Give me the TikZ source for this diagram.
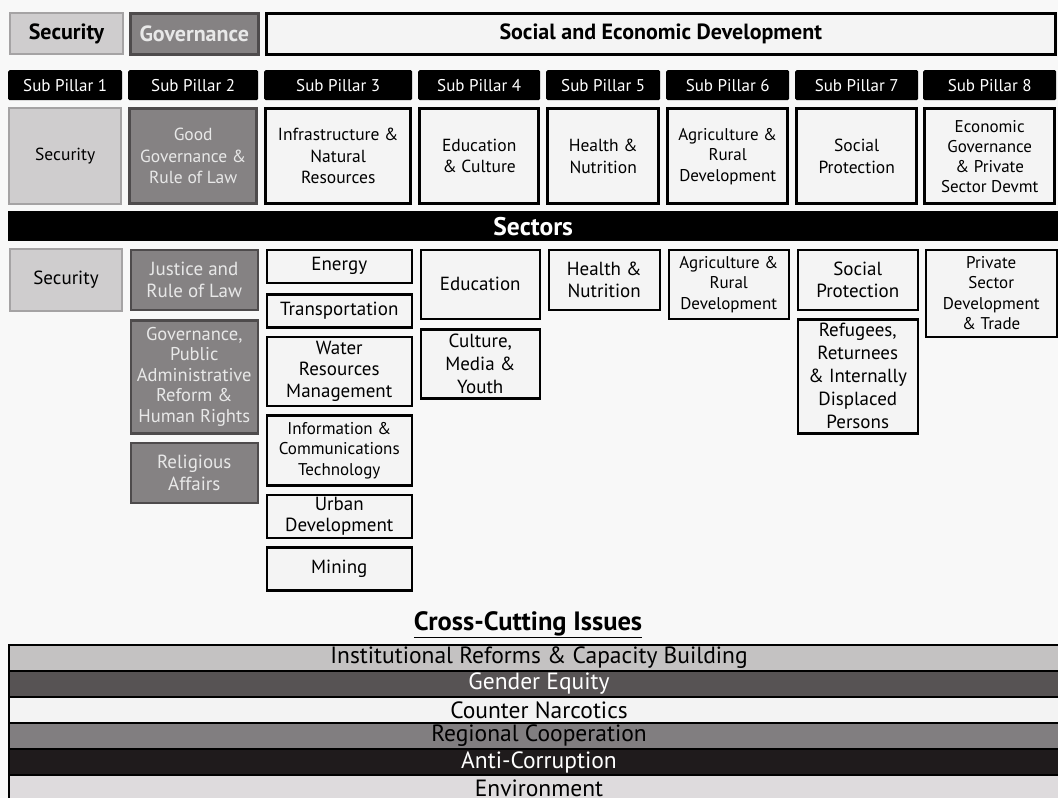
\documentclass[tikz,border=0pt]{standalone}
\usepackage{fontspec}
\setmainfont{PT Sans}
\usetikzlibrary{positioning}
\definecolor{pagebg}{HTML}{F8F8F8}
\definecolor{lightfill}{HTML}{CFCDCE}
\definecolor{lightedge}{HTML}{A5A3A4}
\definecolor{darkfill}{HTML}{858283}
\definecolor{darkedge}{HTML}{4E4B4C}
\definecolor{paleword}{HTML}{E8E8E8}
\definecolor{whitefill}{HTML}{F4F4F4}
\definecolor{issueA}{HTML}{C4C2C2}
\definecolor{issueB}{HTML}{575354}
\definecolor{issueC}{HTML}{F3F3F3}
\definecolor{issueD}{HTML}{817E80}
\definecolor{issueE}{HTML}{1F1B1C}
\definecolor{issueF}{HTML}{DEDBDD}

\begin{document}
\begin{tikzpicture}[
        x=1pt, y=-1pt,
        node distance = 7pt,
        every node/.style = {inner sep=1pt, align=center},
        pillarfont/.style = {font=\fontsize{17.5}{21.5}\selectfont},
        sectorfont/.style = {font=\fontsize{19}{21.5}\selectfont},
        smallfont/.style = {font=\fontsize{17}{20.5}\selectfont},
        topbox/.style   = {anchor=north west, minimum height=41pt, line width=2pt, font=\fontsize{22}{24}\selectfont\bfseries},
        subhead/.style  = {anchor=north west, fill=black, rounded corners=1.5pt, minimum height=30pt, text=white, font=\fontsize{17}{20}\selectfont},
        graybox/.style  = {draw=lightedge, fill=lightfill, line width=2pt},
        darkbox/.style  = {draw=darkedge, fill=darkfill, line width=2.5pt, text=paleword},
        plainbox/.style = {draw=black, fill=whitefill, line width=2.5pt},
        sectorbar/.style = {anchor=north west, fill=black, minimum width=1050pt, minimum height=30pt, text=white, font=\fontsize{25.5}{27}\selectfont\bfseries},
        issuebar/.style = {draw=black, line width=1.5pt, outer sep=0pt, minimum width=1060pt, minimum height=26pt, font=\fontsize{23.5}{25}\selectfont},
    ]
        \useasboundingbox (0,0) rectangle (1058,798);
        \clip (0,0) rectangle (1058,798);
        \fill[pagebg] (0,0) rectangle (1058,798);

        % pillars
        \node[topbox, graybox, minimum width=113pt] (topsec) at (9,12) {Security};
        \node[topbox, darkbox, text=paleword, minimum width=128pt] (topgov) at (129,12) {Governance};
        \node[topbox, plainbox, minimum width=789pt] (topsoc) at (265,12) {Social and Economic Development};

        % sub pillars
        \node[subhead, minimum width=114pt] (sub1) at (8,70) {Sub Pillar 1};
        \node[subhead, minimum width=130pt] (sub2) at (128,70) {Sub Pillar 2};
        \node[subhead, minimum width=148pt] (sub3) at (264,70) {Sub Pillar 3};
        \node[subhead, minimum width=122pt] (sub4) at (418,70) {Sub Pillar 4};
        \node[subhead, minimum width=114pt] (sub5) at (546,70) {Sub Pillar 5};
        \node[subhead, minimum width=123pt] (sub6) at (666,70) {Sub Pillar 6};
        \node[subhead, minimum width=123pt] (sub7) at (795,70) {Sub Pillar 7};
        \node[subhead, minimum width=133pt] (sub8) at (923,70) {Sub Pillar 8};

        \node[graybox, pillarfont, minimum width=112pt, minimum height=96pt, below=7pt of sub1] (pil1) {Security};
        \node[darkbox, pillarfont, minimum width=127pt, minimum height=95pt, below=7pt of sub2] (pil2) {Good\\Governance \&\\Rule of Law};
        \node[plainbox, pillarfont, minimum width=145pt, minimum height=95pt, below=7pt of sub3] (pil3) {Infrastructure \&\\Natural\\Resources};
        \node[plainbox, pillarfont, minimum width=119pt, minimum height=95pt, below=7pt of sub4] (pil4) {Education\\\& Culture};
        \node[plainbox, pillarfont, minimum width=111pt, minimum height=95pt, below=7pt of sub5] (pil5) {Health \&\\Nutrition};
        \node[plainbox, smallfont, minimum width=120pt, minimum height=95pt, below=7pt of sub6] (pil6) {Agriculture \&\\Rural\\Development};
        \node[plainbox, pillarfont, minimum width=120pt, minimum height=95pt, below=7pt of sub7] (pil7) {Social\\Protection};
        \node[plainbox, smallfont, font=\fontsize{17}{20}\selectfont, minimum width=130pt, minimum height=95pt, below=7pt of sub8] (pil8) {Economic\\Governance\\\& Private\\Sector Devmt};

        \node[sectorbar] (sectors) at (8,211) {Sectors};

        % sectors
        \node[graybox, sectorfont, anchor=north west, minimum width=112pt, minimum height=62pt] (sec1) at (9,248) {Security};

        \node[darkbox, sectorfont, anchor=north west, minimum width=127pt, minimum height=60pt] (sec2a) at (129.5,248.5) {Justice and\\Rule of Law};
        \node[darkbox, sectorfont, font=\fontsize{18.5}{20.5}\selectfont, minimum width=127pt, minimum height=113pt, below=8pt of sec2a] (sec2b) {Governance,\\Public\\Administrative\\Reform \&\\Human Rights};
        \node[darkbox, sectorfont, minimum width=127pt, minimum height=60pt, below=7pt of sec2b] (sec2c) {Religious\\Affairs};

        \node[plainbox, sectorfont, anchor=north west, minimum width=145pt, minimum height=33pt] (sec3a) at (265.5,248.5) {Energy};
        \node[plainbox, sectorfont, minimum width=145pt, minimum height=33pt, below=9pt of sec3a] (sec3b) {Transportation};
        \node[plainbox, sectorfont, minimum width=145pt, minimum height=69pt, below=7pt of sec3b] (sec3c) {Water\\Resources\\Management};
        \node[plainbox, smallfont, minimum width=145pt, minimum height=70pt, below=7pt of sec3c] (sec3d) {Information \&\\Communications\\Technology};
        \node[plainbox, sectorfont, minimum width=145pt, minimum height=43pt, below=7pt of sec3d] (sec3e) {Urban\\Development};
        \node[plainbox, sectorfont, minimum width=145pt, minimum height=43pt, below=7pt of sec3e] (sec3f) {Mining};

        \node[plainbox, sectorfont, anchor=north west, minimum width=119pt, minimum height=69pt] (sec4a) at (419.5,248.5) {Education};
        \node[plainbox, sectorfont, font=\fontsize{19}{23}\selectfont, minimum width=119pt, minimum height=69pt, below=8pt of sec4a] (sec4b) {Culture,\\Media \&\\Youth};

        \node[plainbox, sectorfont, font=\fontsize{19}{22.5}\selectfont, anchor=north west, minimum width=111pt, minimum height=60pt] (sec5) at (547.5,248.5) {Health \&\\Nutrition};
        \node[plainbox, smallfont, anchor=north west, minimum width=120pt, minimum height=69pt] (sec6) at (667.5,248.5) {Agriculture \&\\Rural\\Development};
        \node[plainbox, sectorfont, font=\fontsize{19}{22.5}\selectfont, anchor=north west, minimum width=120pt, minimum height=60pt] (sec7a) at (796.5,248.5) {Social\\Protection};
        \node[plainbox, sectorfont, font=\fontsize{19}{23}\selectfont, minimum width=120pt, minimum height=114pt, below=7pt of sec7a] (sec7b) {Refugees,\\Returnees\\\& Internally\\Displaced\\Persons};
        \node[plainbox, smallfont, anchor=north west, minimum width=131pt, minimum height=87pt] (sec8) at (924.5,248.5) {Private\\Sector\\Development\\\& Trade};

        % cross-cutting issues
        \node[font=\fontsize{26.5}{28}\selectfont\bfseries] (cci) at (528,625) {\underline{Cross-Cutting Issues}};
        \node[issuebar, fill=issueA, anchor=north west] (iss1) at (9,645) {Institutional Reforms \& Capacity Building};
        \node[issuebar, fill=issueB, text=white, below=0pt of iss1] (iss2) {Gender Equity};
        \node[issuebar, fill=issueC, below=0pt of iss2] (iss3) {Counter Narcotics};
        \node[issuebar, fill=issueD, below=0pt of iss3] (iss4) {Regional Cooperation};
        \node[issuebar, fill=issueE, text=white, below=0pt of iss4] (iss5) {Anti-Corruption};
        \node[issuebar, fill=issueF, below=0pt of iss5] (iss6) {Environment};
    \end{tikzpicture}
\end{document}
